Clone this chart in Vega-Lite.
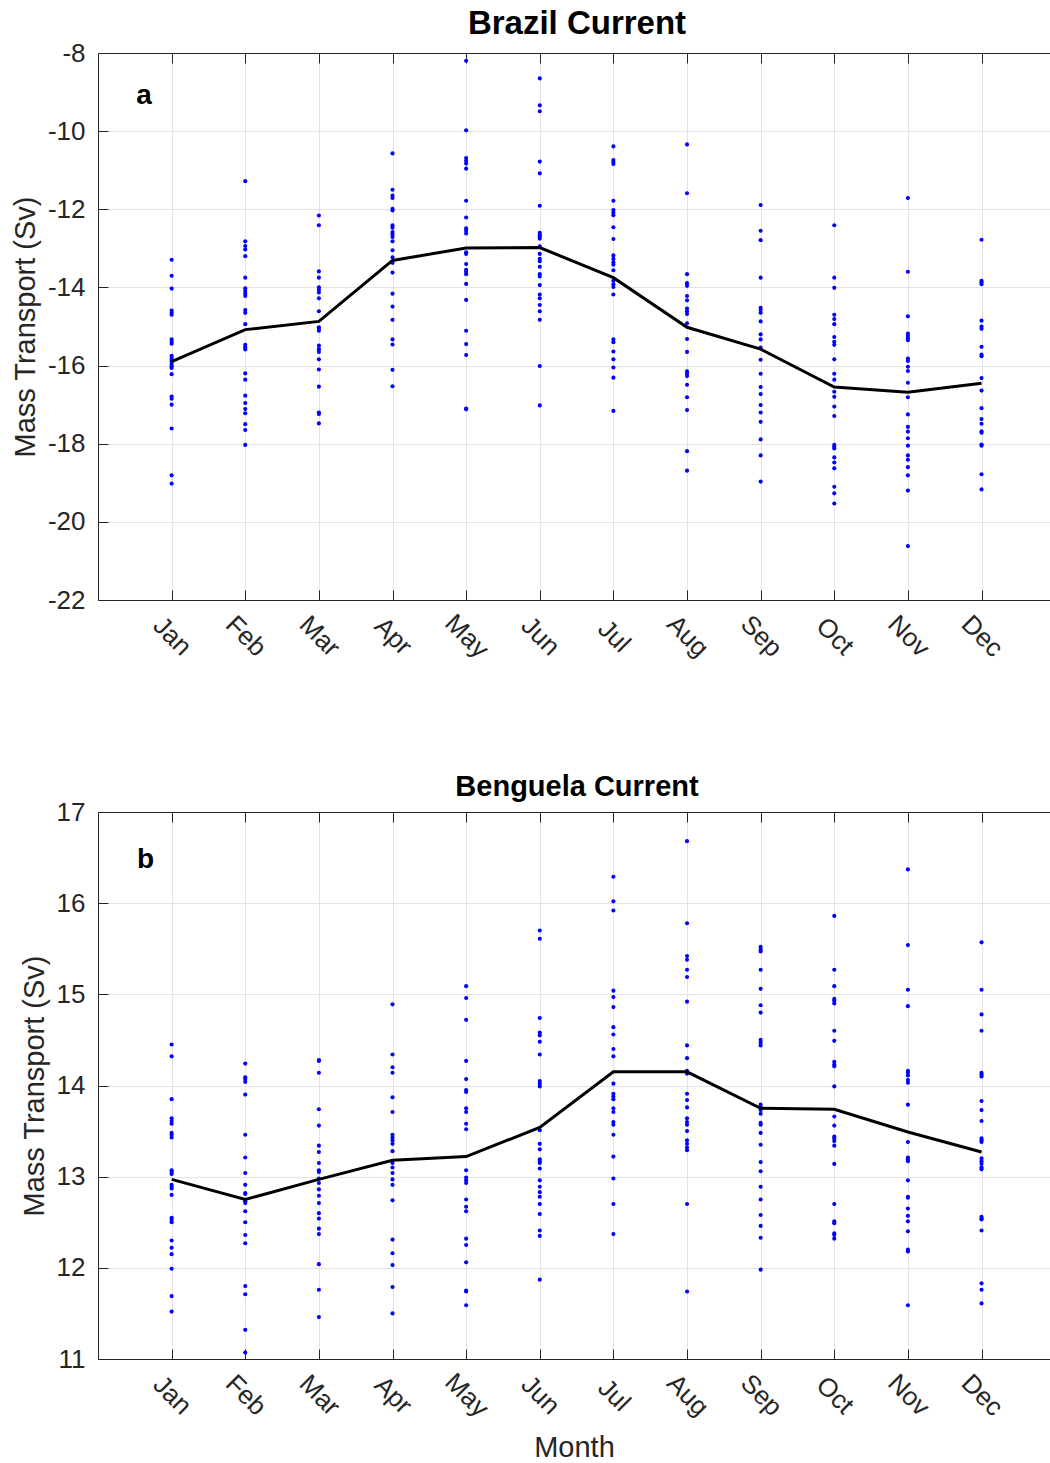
{
  "$schema": "https://vega.github.io/schema/vega-lite/v6.json",
  "background": "white",
  "padding": {"left": 11, "top": 8, "right": 0, "bottom": 0},
  "spacing": 110,
  "datasets": {
    "brazil_obs": [
      {"month":1,"sv":-13.29},{"month":1,"sv":-13.70},{"month":1,"sv":-14.03},{"month":1,"sv":-14.59},{"month":1,"sv":-14.65},{"month":1,"sv":-14.70},{"month":1,"sv":-15.33},{"month":1,"sv":-15.39},{"month":1,"sv":-15.44},{"month":1,"sv":-15.75},{"month":1,"sv":-15.80},{"month":1,"sv":-15.85},{"month":1,"sv":-15.90},{"month":1,"sv":-15.97},{"month":1,"sv":-16.02},{"month":1,"sv":-16.06},{"month":1,"sv":-16.22},{"month":1,"sv":-16.79},{"month":1,"sv":-16.85},{"month":1,"sv":-17.00},{"month":1,"sv":-17.61},{"month":1,"sv":-18.81},{"month":1,"sv":-19.02},
      {"month":2,"sv":-11.28},{"month":2,"sv":-12.82},{"month":2,"sv":-12.94},{"month":2,"sv":-13.03},{"month":2,"sv":-13.20},{"month":2,"sv":-13.75},{"month":2,"sv":-14.02},{"month":2,"sv":-14.09},{"month":2,"sv":-14.16},{"month":2,"sv":-14.22},{"month":2,"sv":-14.58},{"month":2,"sv":-14.65},{"month":2,"sv":-14.94},{"month":2,"sv":-15.47},{"month":2,"sv":-15.53},{"month":2,"sv":-15.59},{"month":2,"sv":-16.20},{"month":2,"sv":-16.36},{"month":2,"sv":-16.77},{"month":2,"sv":-16.96},{"month":2,"sv":-17.11},{"month":2,"sv":-17.22},{"month":2,"sv":-17.50},{"month":2,"sv":-17.65},{"month":2,"sv":-18.03},
      {"month":3,"sv":-12.16},{"month":3,"sv":-12.41},{"month":3,"sv":-13.59},{"month":3,"sv":-13.75},{"month":3,"sv":-14.00},{"month":3,"sv":-14.06},{"month":3,"sv":-14.13},{"month":3,"sv":-14.28},{"month":3,"sv":-14.61},{"month":3,"sv":-15.02},{"month":3,"sv":-15.06},{"month":3,"sv":-15.11},{"month":3,"sv":-15.49},{"month":3,"sv":-15.58},{"month":3,"sv":-15.65},{"month":3,"sv":-15.84},{"month":3,"sv":-16.10},{"month":3,"sv":-16.54},{"month":3,"sv":-17.20},{"month":3,"sv":-17.24},{"month":3,"sv":-17.48},
      {"month":4,"sv":-10.57},{"month":4,"sv":-11.50},{"month":4,"sv":-11.65},{"month":4,"sv":-11.71},{"month":4,"sv":-11.99},{"month":4,"sv":-12.03},{"month":4,"sv":-12.41},{"month":4,"sv":-12.47},{"month":4,"sv":-12.58},{"month":4,"sv":-12.64},{"month":4,"sv":-12.71},{"month":4,"sv":-12.82},{"month":4,"sv":-13.05},{"month":4,"sv":-13.23},{"month":4,"sv":-13.37},{"month":4,"sv":-13.62},{"month":4,"sv":-14.16},{"month":4,"sv":-14.49},{"month":4,"sv":-14.83},{"month":4,"sv":-15.33},{"month":4,"sv":-15.46},{"month":4,"sv":-16.11},{"month":4,"sv":-16.53},
      {"month":5,"sv":-8.20},{"month":5,"sv":-9.98},{"month":5,"sv":-10.69},{"month":5,"sv":-10.76},{"month":5,"sv":-10.83},{"month":5,"sv":-10.96},{"month":5,"sv":-11.78},{"month":5,"sv":-12.21},{"month":5,"sv":-12.49},{"month":5,"sv":-12.55},{"month":5,"sv":-12.62},{"month":5,"sv":-13.10},{"month":5,"sv":-13.14},{"month":5,"sv":-13.40},{"month":5,"sv":-13.55},{"month":5,"sv":-13.60},{"month":5,"sv":-13.66},{"month":5,"sv":-13.91},{"month":5,"sv":-14.32},{"month":5,"sv":-15.11},{"month":5,"sv":-15.45},{"month":5,"sv":-15.73},{"month":5,"sv":-17.10},{"month":5,"sv":-17.12},
      {"month":6,"sv":-8.65},{"month":6,"sv":-9.34},{"month":6,"sv":-9.49},{"month":6,"sv":-10.78},{"month":6,"sv":-11.08},{"month":6,"sv":-11.91},{"month":6,"sv":-12.60},{"month":6,"sv":-12.65},{"month":6,"sv":-12.69},{"month":6,"sv":-12.75},{"month":6,"sv":-12.95},{"month":6,"sv":-13.14},{"month":6,"sv":-13.27},{"month":6,"sv":-13.33},{"month":6,"sv":-13.47},{"month":6,"sv":-13.66},{"month":6,"sv":-13.72},{"month":6,"sv":-13.94},{"month":6,"sv":-14.18},{"month":6,"sv":-14.28},{"month":6,"sv":-14.45},{"month":6,"sv":-14.61},{"month":6,"sv":-14.83},{"month":6,"sv":-16.01},{"month":6,"sv":-17.02},
      {"month":7,"sv":-10.39},{"month":7,"sv":-10.74},{"month":7,"sv":-10.79},{"month":7,"sv":-10.84},{"month":7,"sv":-11.78},{"month":7,"sv":-12.02},{"month":7,"sv":-12.09},{"month":7,"sv":-12.15},{"month":7,"sv":-12.46},{"month":7,"sv":-12.76},{"month":7,"sv":-13.18},{"month":7,"sv":-13.27},{"month":7,"sv":-13.36},{"month":7,"sv":-13.42},{"month":7,"sv":-13.56},{"month":7,"sv":-13.83},{"month":7,"sv":-13.92},{"month":7,"sv":-13.99},{"month":7,"sv":-14.18},{"month":7,"sv":-15.33},{"month":7,"sv":-15.40},{"month":7,"sv":-15.64},{"month":7,"sv":-15.84},{"month":7,"sv":-16.05},{"month":7,"sv":-16.31},{"month":7,"sv":-17.16},
      {"month":8,"sv":-10.34},{"month":8,"sv":-11.59},{"month":8,"sv":-13.66},{"month":8,"sv":-13.89},{"month":8,"sv":-13.96},{"month":8,"sv":-14.22},{"month":8,"sv":-14.33},{"month":8,"sv":-14.54},{"month":8,"sv":-14.61},{"month":8,"sv":-14.68},{"month":8,"sv":-14.92},{"month":8,"sv":-15.32},{"month":8,"sv":-15.65},{"month":8,"sv":-16.15},{"month":8,"sv":-16.21},{"month":8,"sv":-16.27},{"month":8,"sv":-16.49},{"month":8,"sv":-16.81},{"month":8,"sv":-17.14},{"month":8,"sv":-18.19},{"month":8,"sv":-18.69},
      {"month":9,"sv":-11.89},{"month":9,"sv":-12.55},{"month":9,"sv":-12.79},{"month":9,"sv":-13.75},{"month":9,"sv":-14.52},{"month":9,"sv":-14.58},{"month":9,"sv":-14.65},{"month":9,"sv":-14.87},{"month":9,"sv":-15.20},{"month":9,"sv":-15.33},{"month":9,"sv":-15.54},{"month":9,"sv":-15.85},{"month":9,"sv":-16.21},{"month":9,"sv":-16.55},{"month":9,"sv":-16.73},{"month":9,"sv":-17.01},{"month":9,"sv":-17.20},{"month":9,"sv":-17.44},{"month":9,"sv":-17.89},{"month":9,"sv":-18.30},{"month":9,"sv":-18.97},
      {"month":10,"sv":-12.41},{"month":10,"sv":-13.75},{"month":10,"sv":-14.01},{"month":10,"sv":-14.70},{"month":10,"sv":-14.81},{"month":10,"sv":-14.94},{"month":10,"sv":-15.27},{"month":10,"sv":-15.39},{"month":10,"sv":-15.47},{"month":10,"sv":-15.84},{"month":10,"sv":-16.21},{"month":10,"sv":-16.36},{"month":10,"sv":-16.67},{"month":10,"sv":-16.80},{"month":10,"sv":-17.05},{"month":10,"sv":-17.29},{"month":10,"sv":-18.03},{"month":10,"sv":-18.08},{"month":10,"sv":-18.12},{"month":10,"sv":-18.35},{"month":10,"sv":-18.48},{"month":10,"sv":-18.63},{"month":10,"sv":-19.10},{"month":10,"sv":-19.27},{"month":10,"sv":-19.53},
      {"month":11,"sv":-11.71},{"month":11,"sv":-13.60},{"month":11,"sv":-14.74},{"month":11,"sv":-15.18},{"month":11,"sv":-15.24},{"month":11,"sv":-15.30},{"month":11,"sv":-15.35},{"month":11,"sv":-15.82},{"month":11,"sv":-15.88},{"month":11,"sv":-16.03},{"month":11,"sv":-16.14},{"month":11,"sv":-16.44},{"month":11,"sv":-16.81},{"month":11,"sv":-17.25},{"month":11,"sv":-17.57},{"month":11,"sv":-17.69},{"month":11,"sv":-17.86},{"month":11,"sv":-18.05},{"month":11,"sv":-18.30},{"month":11,"sv":-18.41},{"month":11,"sv":-18.60},{"month":11,"sv":-18.81},{"month":11,"sv":-19.20},{"month":11,"sv":-20.62},
      {"month":12,"sv":-12.78},{"month":12,"sv":-13.83},{"month":12,"sv":-13.87},{"month":12,"sv":-13.92},{"month":12,"sv":-14.85},{"month":12,"sv":-15.00},{"month":12,"sv":-15.06},{"month":12,"sv":-15.52},{"month":12,"sv":-15.72},{"month":12,"sv":-15.76},{"month":12,"sv":-16.32},{"month":12,"sv":-16.64},{"month":12,"sv":-17.09},{"month":12,"sv":-17.37},{"month":12,"sv":-17.49},{"month":12,"sv":-17.68},{"month":12,"sv":-17.72},{"month":12,"sv":-18.02},{"month":12,"sv":-18.05},{"month":12,"sv":-18.78},{"month":12,"sv":-19.17}
    ],
    "brazil_mean": [
      {"month":1,"sv":-15.90},{"month":2,"sv":-15.08},{"month":3,"sv":-14.87},{"month":4,"sv":-13.31},{"month":5,"sv":-12.99},{"month":6,"sv":-12.98},{"month":7,"sv":-13.75},{"month":8,"sv":-15.02},{"month":9,"sv":-15.58},{"month":10,"sv":-16.55},{"month":11,"sv":-16.68},{"month":12,"sv":-16.45}
    ],
    "benguela_obs": [
      {"month":1,"sv":14.45},{"month":1,"sv":14.32},{"month":1,"sv":13.85},{"month":1,"sv":13.64},{"month":1,"sv":13.61},{"month":1,"sv":13.58},{"month":1,"sv":13.48},{"month":1,"sv":13.46},{"month":1,"sv":13.43},{"month":1,"sv":13.07},{"month":1,"sv":13.05},{"month":1,"sv":13.03},{"month":1,"sv":12.91},{"month":1,"sv":12.89},{"month":1,"sv":12.87},{"month":1,"sv":12.80},{"month":1,"sv":12.55},{"month":1,"sv":12.53},{"month":1,"sv":12.50},{"month":1,"sv":12.30},{"month":1,"sv":12.22},{"month":1,"sv":12.15},{"month":1,"sv":11.99},{"month":1,"sv":11.69},{"month":1,"sv":11.52},
      {"month":2,"sv":14.24},{"month":2,"sv":14.09},{"month":2,"sv":14.07},{"month":2,"sv":14.04},{"month":2,"sv":13.90},{"month":2,"sv":13.46},{"month":2,"sv":13.21},{"month":2,"sv":13.04},{"month":2,"sv":12.91},{"month":2,"sv":12.82},{"month":2,"sv":12.81},{"month":2,"sv":12.73},{"month":2,"sv":12.71},{"month":2,"sv":12.62},{"month":2,"sv":12.50},{"month":2,"sv":12.36},{"month":2,"sv":12.27},{"month":2,"sv":11.80},{"month":2,"sv":11.71},{"month":2,"sv":11.32},{"month":2,"sv":11.07},
      {"month":3,"sv":14.28},{"month":3,"sv":14.27},{"month":3,"sv":14.14},{"month":3,"sv":13.74},{"month":3,"sv":13.56},{"month":3,"sv":13.34},{"month":3,"sv":13.27},{"month":3,"sv":13.15},{"month":3,"sv":13.07},{"month":3,"sv":13.05},{"month":3,"sv":12.98},{"month":3,"sv":12.93},{"month":3,"sv":12.86},{"month":3,"sv":12.79},{"month":3,"sv":12.71},{"month":3,"sv":12.60},{"month":3,"sv":12.54},{"month":3,"sv":12.43},{"month":3,"sv":12.37},{"month":3,"sv":12.04},{"month":3,"sv":11.76},{"month":3,"sv":11.46},
      {"month":4,"sv":14.89},{"month":4,"sv":14.34},{"month":4,"sv":14.20},{"month":4,"sv":14.14},{"month":4,"sv":13.87},{"month":4,"sv":13.71},{"month":4,"sv":13.46},{"month":4,"sv":13.43},{"month":4,"sv":13.40},{"month":4,"sv":13.36},{"month":4,"sv":13.28},{"month":4,"sv":13.15},{"month":4,"sv":13.10},{"month":4,"sv":13.04},{"month":4,"sv":12.97},{"month":4,"sv":12.91},{"month":4,"sv":12.74},{"month":4,"sv":12.31},{"month":4,"sv":12.16},{"month":4,"sv":12.03},{"month":4,"sv":11.79},{"month":4,"sv":11.50},
      {"month":5,"sv":15.09},{"month":5,"sv":14.96},{"month":5,"sv":14.72},{"month":5,"sv":14.27},{"month":5,"sv":14.07},{"month":5,"sv":13.95},{"month":5,"sv":13.93},{"month":5,"sv":13.75},{"month":5,"sv":13.71},{"month":5,"sv":13.58},{"month":5,"sv":13.52},{"month":5,"sv":13.07},{"month":5,"sv":12.99},{"month":5,"sv":12.96},{"month":5,"sv":12.93},{"month":5,"sv":12.75},{"month":5,"sv":12.67},{"month":5,"sv":12.62},{"month":5,"sv":12.32},{"month":5,"sv":12.25},{"month":5,"sv":12.06},{"month":5,"sv":11.75},{"month":5,"sv":11.74},{"month":5,"sv":11.59},
      {"month":6,"sv":15.70},{"month":6,"sv":15.61},{"month":6,"sv":14.74},{"month":6,"sv":14.58},{"month":6,"sv":14.55},{"month":6,"sv":14.48},{"month":6,"sv":14.34},{"month":6,"sv":14.05},{"month":6,"sv":14.02},{"month":6,"sv":13.99},{"month":6,"sv":13.51},{"month":6,"sv":13.36},{"month":6,"sv":13.30},{"month":6,"sv":13.19},{"month":6,"sv":13.17},{"month":6,"sv":13.15},{"month":6,"sv":13.09},{"month":6,"sv":12.96},{"month":6,"sv":12.89},{"month":6,"sv":12.83},{"month":6,"sv":12.78},{"month":6,"sv":12.70},{"month":6,"sv":12.59},{"month":6,"sv":12.41},{"month":6,"sv":12.35},{"month":6,"sv":11.87},
      {"month":7,"sv":16.29},{"month":7,"sv":16.02},{"month":7,"sv":15.92},{"month":7,"sv":15.04},{"month":7,"sv":14.97},{"month":7,"sv":14.86},{"month":7,"sv":14.64},{"month":7,"sv":14.56},{"month":7,"sv":14.40},{"month":7,"sv":14.32},{"month":7,"sv":14.02},{"month":7,"sv":13.91},{"month":7,"sv":13.88},{"month":7,"sv":13.85},{"month":7,"sv":13.75},{"month":7,"sv":13.71},{"month":7,"sv":13.60},{"month":7,"sv":13.57},{"month":7,"sv":13.46},{"month":7,"sv":13.22},{"month":7,"sv":12.98},{"month":7,"sv":12.70},{"month":7,"sv":12.37},
      {"month":8,"sv":16.68},{"month":8,"sv":15.78},{"month":8,"sv":15.42},{"month":8,"sv":15.38},{"month":8,"sv":15.27},{"month":8,"sv":15.19},{"month":8,"sv":14.92},{"month":8,"sv":14.44},{"month":8,"sv":14.30},{"month":8,"sv":14.16},{"month":8,"sv":14.13},{"month":8,"sv":13.91},{"month":8,"sv":13.84},{"month":8,"sv":13.76},{"month":8,"sv":13.64},{"month":8,"sv":13.60},{"month":8,"sv":13.57},{"month":8,"sv":13.50},{"month":8,"sv":13.40},{"month":8,"sv":13.36},{"month":8,"sv":13.32},{"month":8,"sv":13.29},{"month":8,"sv":12.70},{"month":8,"sv":11.74},
      {"month":9,"sv":15.52},{"month":9,"sv":15.49},{"month":9,"sv":15.47},{"month":9,"sv":15.27},{"month":9,"sv":15.06},{"month":9,"sv":14.88},{"month":9,"sv":14.80},{"month":9,"sv":14.50},{"month":9,"sv":14.47},{"month":9,"sv":14.44},{"month":9,"sv":13.79},{"month":9,"sv":13.76},{"month":9,"sv":13.73},{"month":9,"sv":13.69},{"month":9,"sv":13.59},{"month":9,"sv":13.57},{"month":9,"sv":13.48},{"month":9,"sv":13.35},{"month":9,"sv":13.16},{"month":9,"sv":13.06},{"month":9,"sv":12.89},{"month":9,"sv":12.75},{"month":9,"sv":12.58},{"month":9,"sv":12.46},{"month":9,"sv":12.33},{"month":9,"sv":11.98},
      {"month":10,"sv":15.86},{"month":10,"sv":15.27},{"month":10,"sv":15.09},{"month":10,"sv":14.95},{"month":10,"sv":14.93},{"month":10,"sv":14.90},{"month":10,"sv":14.60},{"month":10,"sv":14.49},{"month":10,"sv":14.26},{"month":10,"sv":14.23},{"month":10,"sv":14.21},{"month":10,"sv":13.99},{"month":10,"sv":13.66},{"month":10,"sv":13.56},{"month":10,"sv":13.44},{"month":10,"sv":13.42},{"month":10,"sv":13.39},{"month":10,"sv":13.34},{"month":10,"sv":13.14},{"month":10,"sv":12.70},{"month":10,"sv":12.51},{"month":10,"sv":12.49},{"month":10,"sv":12.38},{"month":10,"sv":12.36},{"month":10,"sv":12.32},
      {"month":11,"sv":16.37},{"month":11,"sv":15.54},{"month":11,"sv":15.05},{"month":11,"sv":14.87},{"month":11,"sv":14.16},{"month":11,"sv":14.14},{"month":11,"sv":14.11},{"month":11,"sv":14.06},{"month":11,"sv":14.03},{"month":11,"sv":13.79},{"month":11,"sv":13.38},{"month":11,"sv":13.21},{"month":11,"sv":13.19},{"month":11,"sv":13.17},{"month":11,"sv":12.96},{"month":11,"sv":12.78},{"month":11,"sv":12.77},{"month":11,"sv":12.65},{"month":11,"sv":12.57},{"month":11,"sv":12.51},{"month":11,"sv":12.40},{"month":11,"sv":12.20},{"month":11,"sv":12.18},{"month":11,"sv":11.59},
      {"month":12,"sv":15.57},{"month":12,"sv":15.05},{"month":12,"sv":14.78},{"month":12,"sv":14.60},{"month":12,"sv":14.14},{"month":12,"sv":14.12},{"month":12,"sv":14.10},{"month":12,"sv":13.83},{"month":12,"sv":13.73},{"month":12,"sv":13.61},{"month":12,"sv":13.42},{"month":12,"sv":13.40},{"month":12,"sv":13.38},{"month":12,"sv":13.20},{"month":12,"sv":13.17},{"month":12,"sv":13.14},{"month":12,"sv":13.10},{"month":12,"sv":13.08},{"month":12,"sv":12.56},{"month":12,"sv":12.54},{"month":12,"sv":12.53},{"month":12,"sv":12.41},{"month":12,"sv":11.83},{"month":12,"sv":11.76},{"month":12,"sv":11.61}
    ],
    "benguela_mean": [
      {"month":1,"sv":12.97},{"month":2,"sv":12.75},{"month":3,"sv":12.97},{"month":4,"sv":13.18},{"month":5,"sv":13.22},{"month":6,"sv":13.54},{"month":7,"sv":14.15},{"month":8,"sv":14.15},{"month":9,"sv":13.75},{"month":10,"sv":13.74},{"month":11,"sv":13.49},{"month":12,"sv":13.27}
    ]
  },
  "vconcat": [
    {
      "title": {"text": "Brazil Current", "fontSize": 33, "offset": -1, "dx": 3},
      "width": 952,
      "height": 547,
      "layer": [
        {
          "data": {"name": "brazil_obs"},
          "mark": {"type": "point", "filled": true, "size": 17, "color": "#0000ff", "opacity": 1},
          "encoding": {
            "x": {"field": "month", "type": "quantitative", "scale": {"domain": [0, 12.93], "nice": false, "zero": false},
                  "axis": {"orient": "bottom", "title": null, "values": [1,2,3,4,5,6,7,8,9,10,11,12],
                           "labelExpr": "['','Jan','Feb','Mar','Apr','May','Jun','Jul','Aug','Sep','Oct','Nov','Dec'][datum.value]",
                           "labelAngle": 45, "labelAlign": "center", "labelBaseline": "middle", "labelPadding": 46, "tickSize": -10, "grid": true}},
            "y": {"field": "sv", "type": "quantitative", "scale": {"domain": [-22, -8], "nice": false, "zero": false},
                  "axis": {"title": "Mass Transport (Sv)", "values": [-22,-20,-18,-16,-14,-12,-10,-8],
                           "labelExpr": "datum.value < 0 ? '-' + abs(datum.value) : '' + datum.value",
                           "labelPadding": 23, "tickSize": -10, "grid": true}}
          }
        },
        {
          "data": {"name": "brazil_mean"},
          "mark": {"type": "line", "color": "black", "strokeWidth": 3},
          "encoding": {
            "x": {"field": "month", "type": "quantitative", "scale": {"domain": [0, 12.93], "nice": false, "zero": false},
                  "axis": {"orient": "top", "title": null, "labels": false, "grid": false, "values": [1,2,3,4,5,6,7,8,9,10,11,12], "tickSize": -10}},
            "y": {"field": "sv", "type": "quantitative", "scale": {"domain": [-22, -8], "nice": false, "zero": false}}
          }
        },
        {
          "data": {"values": [{}]},
          "mark": {"type": "text", "text": "a", "fontSize": 28, "fontWeight": "bold", "align": "center", "baseline": "alphabetic", "color": "black"},
          "encoding": {
            "x": {"datum": 0.625, "type": "quantitative", "scale": {"domain": [0, 12.93], "nice": false, "zero": false}, "axis": null},
            "y": {"datum": -9.3, "type": "quantitative", "scale": {"domain": [-22, -8], "nice": false, "zero": false}}
          }
        }
      ],
      "resolve": {"scale": {"x": "independent"}, "axis": {"x": "independent"}}
    },
    {
      "title": {"text": "Benguela Current", "fontSize": 29, "offset": -3, "dx": 3},
      "width": 952,
      "height": 547,
      "layer": [
        {
          "data": {"name": "benguela_obs"},
          "mark": {"type": "point", "filled": true, "size": 17, "color": "#0000ff", "opacity": 1},
          "encoding": {
            "x": {"field": "month", "type": "quantitative", "scale": {"domain": [0, 12.93], "nice": false, "zero": false},
                  "axis": {"orient": "bottom", "title": "Month", "titleDx": 2, "titlePadding": 12, "values": [1,2,3,4,5,6,7,8,9,10,11,12],
                           "labelExpr": "['','Jan','Feb','Mar','Apr','May','Jun','Jul','Aug','Sep','Oct','Nov','Dec'][datum.value]",
                           "labelAngle": 45, "labelAlign": "center", "labelBaseline": "middle", "labelPadding": 46, "tickSize": -10, "grid": true}},
            "y": {"field": "sv", "type": "quantitative", "scale": {"domain": [11, 17], "nice": false, "zero": false},
                  "axis": {"title": "Mass Transport (Sv)", "values": [11,12,13,14,15,16,17], "format": "d",
                           "labelPadding": 23, "tickSize": -10, "grid": true}}
          }
        },
        {
          "data": {"name": "benguela_mean"},
          "mark": {"type": "line", "color": "black", "strokeWidth": 3},
          "encoding": {
            "x": {"field": "month", "type": "quantitative", "scale": {"domain": [0, 12.93], "nice": false, "zero": false},
                  "axis": {"orient": "top", "title": null, "labels": false, "grid": false, "values": [1,2,3,4,5,6,7,8,9,10,11,12], "tickSize": -10}},
            "y": {"field": "sv", "type": "quantitative", "scale": {"domain": [11, 17], "nice": false, "zero": false}}
          }
        },
        {
          "data": {"values": [{}]},
          "mark": {"type": "text", "text": "b", "fontSize": 28, "fontWeight": "bold", "align": "center", "baseline": "alphabetic", "color": "black"},
          "encoding": {
            "x": {"datum": 0.645, "type": "quantitative", "scale": {"domain": [0, 12.93], "nice": false, "zero": false}, "axis": null},
            "y": {"datum": 16.386, "type": "quantitative", "scale": {"domain": [11, 17], "nice": false, "zero": false}}
          }
        }
      ],
      "resolve": {"scale": {"x": "independent"}, "axis": {"x": "independent"}}
    }
  ],
  "config": {
    "font": "Liberation Sans",
    "view": {"stroke": null},
    "title": {"font": "Liberation Sans", "fontWeight": "bold", "color": "black", "anchor": "middle", "baseline": "alphabetic"},
    "axis": {
      "labelFont": "Liberation Sans", "labelFontSize": 26, "labelColor": "#262626",
      "titleFont": "Liberation Sans", "titleFontSize": 29, "titleFontWeight": "normal", "titleColor": "#262626", "titlePadding": 7,
      "domainColor": "#262626", "domainWidth": 1, "tickColor": "#262626", "tickWidth": 1,
      "gridColor": "#e3e3e3", "gridWidth": 1, "labelFlush": false, "labelOverlap": false
    }
  }
}
